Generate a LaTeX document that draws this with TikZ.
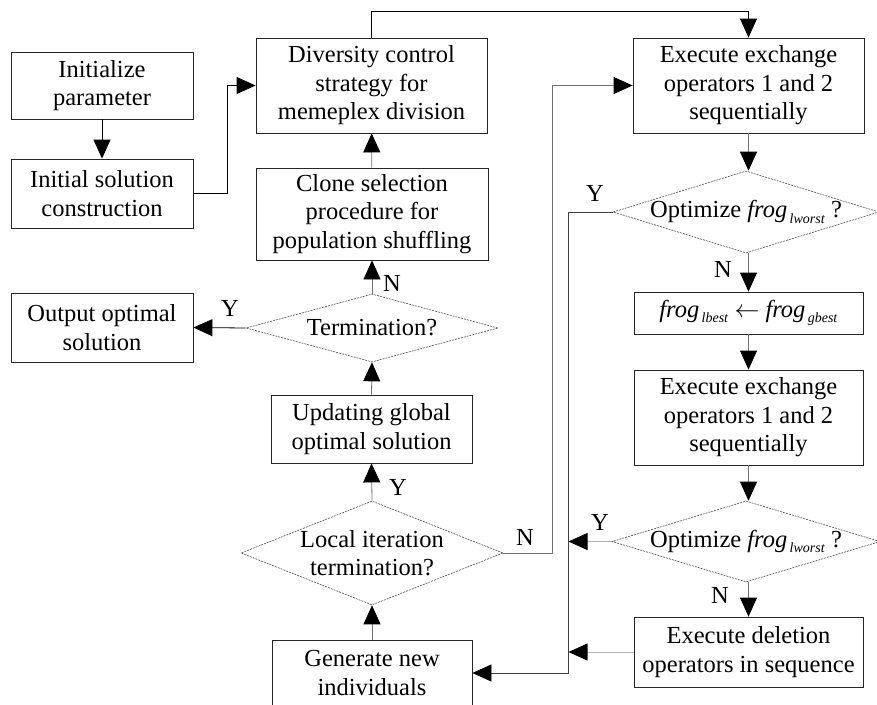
\documentclass[tikz,border=0pt]{standalone}
\usepackage{fontspec}
\setmainfont{Liberation Serif}
\usetikzlibrary{arrows.meta,shapes.geometric}
\newcommand{\frogsub}[1]{\textit{frog}\raisebox{-0.5ex}{\fontsize{14}{14}\selectfont\,\textit{#1}}}
\begin{document}
\begin{tikzpicture}[x=1pt,y=-1pt,
  font=\fontsize{24.5}{28.5}\selectfont,
  proc/.style 2 args={draw=black!85, line width=0.8pt, rectangle, inner sep=0pt,
    align=center, minimum width=#1pt, minimum height=#2pt},
  dec/.style 2 args={diamond, draw=black!70, dash pattern=on 2pt off 1pt,
    line width=0.6pt, inner sep=0pt, minimum width=#1pt, minimum height=#2pt},
  arr/.style={-{Triangle[length=19pt,width=17pt,color=black,fill=black]}, line width=0.8pt},
  dark/.style={arr, draw=black},
  mid/.style={arr, draw=black!55},
  light/.style={arr, draw=black!30},
  lab/.style={inner sep=0pt}
]
\useasboundingbox (0,0) rectangle (877,704);

% left column
\node[proc={182}{67}] (init) at (102,85.5) {Initialize\\parameter};
\node[proc={182}{69}] (initsol) at (102,193.5) {Initial solution\\construction};
\node[proc={182}{69}] (output) at (102,327.5) {Output optimal\\solution};

% middle column
\node[proc={231}{95}] (div) at (371.5,85.5) {Diversity control\\strategy for\\memeplex division};
\node[proc={232}{92}] (clone) at (372,214) {Clone selection\\procedure for\\population shuffling};
\node[dec={252}{68}, label=center:{Termination?}] (term) at (372,328) {};
\node[proc={201}{68}] (upd) at (371.5,429) {Updating global\\optimal solution};
\node[dec={262}{104}, label={[align=center]center:Local iteration\\termination?}] (local) at (372,553) {};
\node[proc={200}{66}] (gen) at (372,673) {Generate new\\individuals};

% right column
\node[proc={231}{95}] (exe1) at (748.5,85.5) {Execute exchange\\operators 1 and 2\\sequentially};
\node[dec={266}{82}, label=center:{Optimize \frogsub{lworst} ?}] (opt1) at (746,212) {};
\node[proc={229}{42}] (frog) at (748.5,313) {\frogsub{lbest} $\leftarrow$ \frogsub{gbest}};
\node[proc={229}{95}] (exe2) at (748.5,417.5) {Execute exchange\\operators 1 and 2\\sequentially};
\node[dec={268}{81}, label=center:{Optimize \frogsub{lworst} ?}] (opt2) at (746,541.5) {};
\node[proc={229}{70}] (del) at (748.5,652) {Execute deletion\\operators in sequence};

% junction points on the collector line
\coordinate (j1) at (568.5,541.5);
\coordinate (j2) at (568.5,652);

% connectors
\draw[dark] (init) -- (initsol);
\draw[dark] (initsol.east) -- ++(34,0) |- (div.west);
\draw[dark] (div.north) -- ++(0,-26) -| (exe1.north);
\draw[mid] (clone) -- (div);
\draw[mid] (term.north) -- (clone.south);
\draw[dark] (term.west) -- (output.east);
\draw[mid] (upd.north) -- (term.south);
\draw[mid] (local.north) -- (upd.south);
\draw[mid] (gen.north) -- (local.south);
\draw[mid] (local.east) -- ++(49,0) |- (exe1.west);
\draw[mid] (exe1.south) -- (opt1.north -| exe1.south);
\draw[mid] (opt1.south -| frog.north) -- (frog.north);
\draw[mid] (frog) -- (exe2);
\draw[mid] (exe2.south) -- (opt2.north -| exe2.south);
\draw[mid] (opt2.south -| del.north) -- (del.north);
\draw[arr, draw=black!75] (opt1.west) -- ++(-44.5,0) |- (gen.east);
\draw[light] (opt2.west) -- (j1);
\draw[light] (del.west) -- (j2);

% Y / N labels
\node[lab] (n1) at (392,283) {N};
\node[lab] (y1) at (230,308) {Y};
\node[lab] (y2) at (398,487) {Y};
\node[lab] (n2) at (525,537) {N};
\node[lab] (y3) at (595,193) {Y};
\node[lab] (n3) at (723,269) {N};
\node[lab] (y4) at (600,522) {Y};
\node[lab] (n4) at (720,595) {N};
\end{tikzpicture}
\end{document}
